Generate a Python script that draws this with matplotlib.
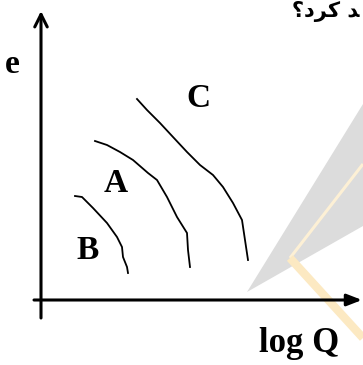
import matplotlib
matplotlib.use("Agg")
import matplotlib.pyplot as plt
from matplotlib.patches import Polygon

# ---- data (hand-drawn curves, in picture units: x right, y down) ----
curve_B_x = [75, 82, 93, 107, 117, 122, 123, 127, 128]
curve_B_y = [196, 197, 208, 223, 237, 247, 257, 267, 273]

curve_A_x = [95, 107, 120, 133, 148, 157, 167, 177, 187, 188, 190]
curve_A_y = [141, 145, 152, 160, 173, 180, 197, 217, 233, 250, 267]

curve_C_x = [137, 147, 160, 173, 187, 200, 213, 223, 233, 242, 245, 248]
curve_C_y = [99, 110, 123, 137, 152, 165, 175, 187, 203, 220, 240, 260]

curve_labels = ["A", "B", "C"]
label_x = [116, 88, 198]
label_y = [192, 259, 107]

y_label = "e"
x_label = "log Q"
# visible part of the Persian text "...د کرد؟" in visual order (presentation forms)
top_text = "\u061F\uFEA9\uFEAE\uFEDB \uFEAA"

W, H = 363, 365
fig = plt.figure(figsize=(W / 100, H / 100), dpi=100)
ax = fig.add_axes([0, 0, 1, 1])
ax.set_xlim(0, W)
ax.set_ylim(H, 0)
ax.axis("off")

# watermark decoration
ax.add_patch(Polygon([(247, 292), (363, 104), (363, 226)], closed=True,
                     facecolor="#dcdcdc", edgecolor="none", zorder=1))
ax.plot([290, 363], [258, 164], color="#fdf0d5", lw=2.2, zorder=2,
        solid_capstyle="butt")
ax.plot([290, 363], [258, 338], color="#fce9c2", lw=6, zorder=2,
        solid_capstyle="butt")

# axes
ax.annotate("", xy=(41, 11), xytext=(41, 318),
            arrowprops=dict(arrowstyle="->,head_length=0.9,head_width=0.45",
                            lw=2.2, color="black", shrinkA=0, shrinkB=0),
            zorder=5)
ax.annotate("", xy=(362, 300), xytext=(34, 300),
            arrowprops=dict(arrowstyle="-|>,head_length=0.9,head_width=0.35",
                            lw=2.2, color="black", shrinkA=0, shrinkB=0),
            zorder=5)

# curves
for cx, cy in [(curve_A_x, curve_A_y), (curve_B_x, curve_B_y), (curve_C_x, curve_C_y)]:
    ax.plot(cx, cy, color="black", lw=1.3, zorder=4)

serif = dict(family="Liberation Serif", weight="bold", color="black")
for lab, lx, ly in zip(curve_labels, label_x, label_y):
    ax.text(lx, ly, lab, fontsize=24, ha="center", va="baseline", **serif)

ax.text(12, 73, y_label, fontsize=24, ha="center", va="baseline", **serif)
ax.text(299, 352, x_label, fontsize=25, ha="center", va="baseline", **serif)

ax.text(360, 1, top_text, fontsize=15, ha="right", va="top",
        family="DejaVu Sans", weight="bold", color="black")

fig.savefig("out.png", dpi=100)
